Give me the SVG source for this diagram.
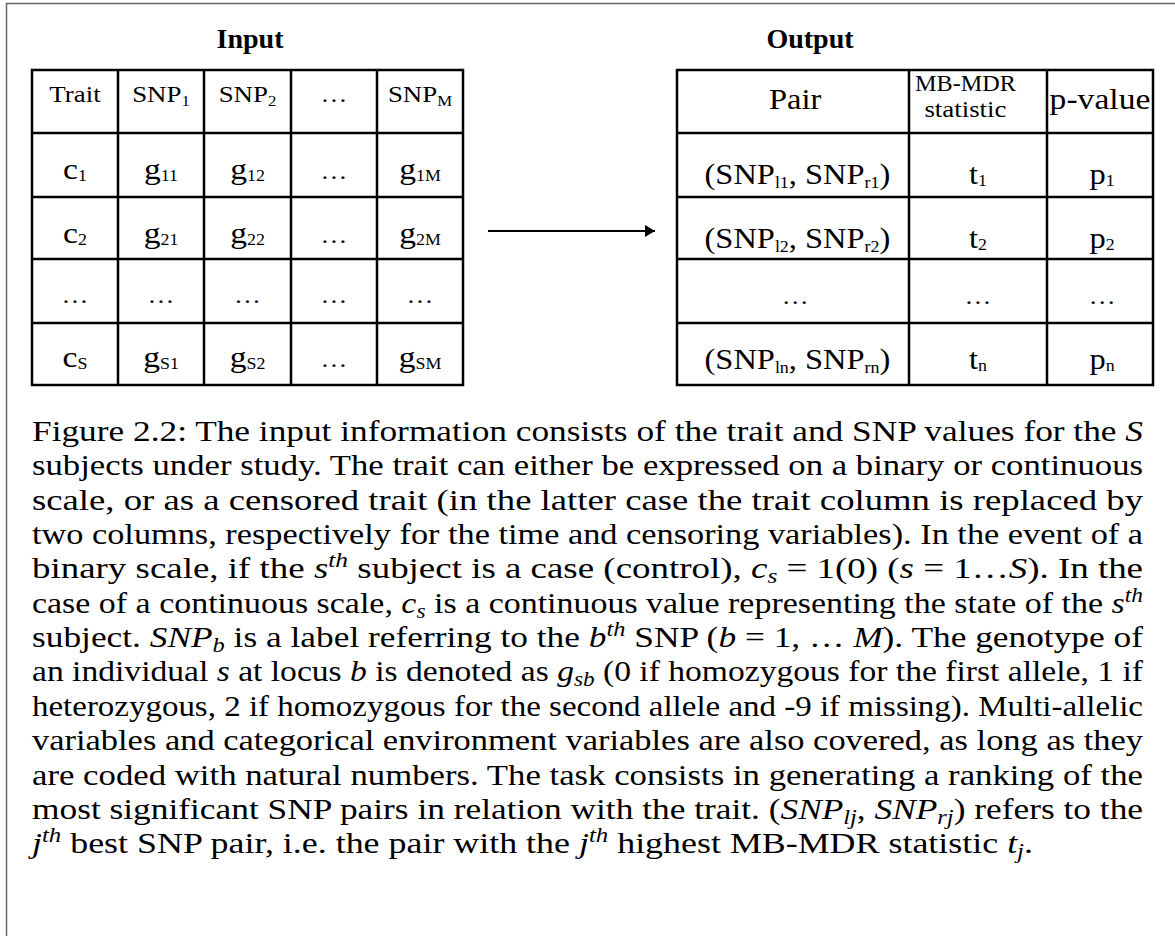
<svg xmlns="http://www.w3.org/2000/svg" width="1175" height="936" viewBox="0 0 1175 936">
<defs>
<style>
.frame{fill:none;stroke:#666;stroke-width:1.5}
.grid{fill:none;stroke:#000;stroke-width:2.5}
.ti{font-family:"Liberation Serif","Times New Roman",serif;font-weight:bold;font-size:28px;text-anchor:middle;fill:#000}
.tt{font-family:"Liberation Serif","Times New Roman",serif;text-anchor:middle;fill:#000}
.h{font-size:24px}
.r{font-size:30px}
.rr{font-size:29px}
.s{font-size:16px}
.hs{font-size:15px}
.el{font-size:24px}
.cap{font-family:"Liberation Serif","Times New Roman",serif;font-size:29px;fill:#000}
.i{font-style:italic}
.sm{font-size:20px}
</style>
<marker id="arr" viewBox="0 0 10 12" refX="10" refY="6" markerWidth="10" markerHeight="12" markerUnits="userSpaceOnUse" orient="auto">
<path d="M0,0 L10,6 L0,12 Z" fill="#000"/>
</marker>
</defs>
<rect width="1175" height="936" fill="#fff"/>
<path class="frame" d="M6.5,936 V3.5 H1175"/>

<g id="title-input"><text class="ti" x="250" y="48">Input</text></g>
<g id="title-output"><text class="ti" x="810" y="48">Output</text></g>

<g id="input-table">
<rect class="grid" x="32" y="70" width="431" height="315"/>
<path class="grid" d="M118,70V385M204,70V385M291,70V385M377,70V385M32,133H463M32,197H463M32,259H463M32,323H463"/>
<g transform="scale(1.12,1)">
<text class="tt h" x="66.96" y="102">Trait</text>
<text class="tt h" x="143.75" y="102">SNP<tspan class="hs" dy="4">1</tspan></text>
<text class="tt h" x="220.98" y="102">SNP<tspan class="hs" dy="4">2</tspan></text>
<text class="tt el" x="298.21" y="102">…</text>
<text class="tt h" x="375" y="102">SNP<tspan class="hs" dy="4">M</tspan></text>

<text class="tt r" x="66.96" y="179">c<tspan class="s" dy="2">1</tspan></text>
<text class="tt r" x="143.75" y="179">g<tspan class="s" dy="2">11</tspan></text>
<text class="tt r" x="220.98" y="179">g<tspan class="s" dy="2">12</tspan></text>
<text class="tt el" x="298.21" y="179">…</text>
<text class="tt r" x="375" y="179">g<tspan class="s" dy="2">1M</tspan></text>

<text class="tt r" x="66.96" y="243">c<tspan class="s" dy="2">2</tspan></text>
<text class="tt r" x="143.75" y="243">g<tspan class="s" dy="2">21</tspan></text>
<text class="tt r" x="220.98" y="243">g<tspan class="s" dy="2">22</tspan></text>
<text class="tt el" x="298.21" y="243">…</text>
<text class="tt r" x="375" y="243">g<tspan class="s" dy="2">2M</tspan></text>

<text class="tt el" x="66.96" y="303">…</text>
<text class="tt el" x="143.75" y="303">…</text>
<text class="tt el" x="220.98" y="303">…</text>
<text class="tt el" x="298.21" y="303">…</text>
<text class="tt el" x="375" y="303">…</text>

<text class="tt r" x="66.96" y="367">c<tspan class="s" dy="2">S</tspan></text>
<text class="tt r" x="143.75" y="367">g<tspan class="s" dy="2">S1</tspan></text>
<text class="tt r" x="220.98" y="367">g<tspan class="s" dy="2">S2</tspan></text>
<text class="tt el" x="298.21" y="367">…</text>
<text class="tt r" x="375" y="367">g<tspan class="s" dy="2">SM</tspan></text>
</g>
</g>

<g id="output-table">
<rect class="grid" x="677" y="70" width="476" height="315"/>
<path class="grid" d="M909,70V385M1047,70V385M677,133H1153M677,197H1153M677,259H1153M677,323H1153"/>
<g transform="scale(1.12,1)">
<text class="tt rr" x="710" y="109">Pair</text>
<text class="tt" style="font-size:24px" x="862" y="91" textLength="90" lengthAdjust="spacingAndGlyphs">MB-MDR</text>
<text class="tt" style="font-size:24px" x="862" y="117">statistic</text>
<text class="tt" style="font-size:30px" x="982.14" y="109">p-value</text>

<text class="tt rr" x="712" y="184">(SNP<tspan class="s" dy="4">l1</tspan><tspan dy="-4">, SNP</tspan><tspan class="s" dy="4">r1</tspan><tspan dy="-4">)</tspan></text>
<text class="tt rr" x="873.21" y="184">t<tspan class="s" dy="2">1</tspan></text>
<text class="tt rr" x="984" y="184">p<tspan class="s" dy="2">1</tspan></text>

<text class="tt rr" x="712" y="248">(SNP<tspan class="s" dy="4">l2</tspan><tspan dy="-4">, SNP</tspan><tspan class="s" dy="4">r2</tspan><tspan dy="-4">)</tspan></text>
<text class="tt rr" x="873.21" y="248">t<tspan class="s" dy="2">2</tspan></text>
<text class="tt rr" x="984" y="248">p<tspan class="s" dy="2">2</tspan></text>

<text class="tt el" x="710" y="304">…</text>
<text class="tt el" x="873.21" y="304">…</text>
<text class="tt el" x="984" y="304">…</text>

<text class="tt rr" x="712" y="369">(SNP<tspan class="s" dy="4">ln</tspan><tspan dy="-4">, SNP</tspan><tspan class="s" dy="4">rn</tspan><tspan dy="-4">)</tspan></text>
<text class="tt rr" x="873.21" y="369">t<tspan class="s" dy="2">n</tspan></text>
<text class="tt rr" x="984" y="369">p<tspan class="s" dy="2">n</tspan></text>
</g>
</g>

<g id="connectors">
<line x1="488" y1="231" x2="655" y2="231" stroke="#000" stroke-width="2" marker-end="url(#arr)"/>
</g>

<g id="caption">
<text class="cap" x="32" y="441" textLength="1111" lengthAdjust="spacingAndGlyphs">Figure 2.2: The input information consists of the trait and SNP values for the <tspan class="i">S</tspan></text>
<text class="cap" x="32" y="475.35" textLength="1111" lengthAdjust="spacingAndGlyphs">subjects under study. The trait can either be expressed on a binary or continuous</text>
<text class="cap" x="32" y="509.7" textLength="1111" lengthAdjust="spacingAndGlyphs">scale, or as a censored trait (in the latter case the trait column is replaced by</text>
<text class="cap" x="32" y="544.05" textLength="1111" lengthAdjust="spacingAndGlyphs">two columns, respectively for the time and censoring variables). In the event of a</text>
<text class="cap" x="32" y="578.4" textLength="1111" lengthAdjust="spacingAndGlyphs">binary scale, if the <tspan class="i">s</tspan><tspan class="i sm" dy="-11">th</tspan><tspan dy="11"> subject is a case (control), </tspan><tspan class="i">c</tspan><tspan class="i sm" dy="5">s</tspan><tspan dy="-5"> = 1(0) (</tspan><tspan class="i">s</tspan><tspan> = 1…</tspan><tspan class="i">S</tspan><tspan>). In the</tspan></text>
<text class="cap" x="32" y="612.75" textLength="1111" lengthAdjust="spacingAndGlyphs">case of a continuous scale, <tspan class="i">c</tspan><tspan class="i sm" dy="5">s</tspan><tspan dy="-5"> is a continuous value representing the state of the </tspan><tspan class="i">s</tspan><tspan class="i sm" dy="-11">th</tspan></text>
<text class="cap" x="32" y="647.1" textLength="1111" lengthAdjust="spacingAndGlyphs">subject. <tspan class="i">SNP</tspan><tspan class="i sm" dy="5">b</tspan><tspan dy="-5"> is a label referring to the </tspan><tspan class="i">b</tspan><tspan class="i sm" dy="-11">th</tspan><tspan dy="11"> SNP (</tspan><tspan class="i">b</tspan><tspan> = 1, … </tspan><tspan class="i">M</tspan><tspan>). The genotype of</tspan></text>
<text class="cap" x="32" y="681.45" textLength="1111" lengthAdjust="spacingAndGlyphs">an individual <tspan class="i">s</tspan><tspan> at locus </tspan><tspan class="i">b</tspan><tspan> is denoted as </tspan><tspan class="i">g</tspan><tspan class="i sm" dy="5">sb</tspan><tspan dy="-5"> (0 if homozygous for the first allele, 1 if</tspan></text>
<text class="cap" x="32" y="715.8" textLength="1111" lengthAdjust="spacingAndGlyphs">heterozygous, 2 if homozygous for the second allele and -9 if missing). Multi-allelic</text>
<text class="cap" x="32" y="750.15" textLength="1111" lengthAdjust="spacingAndGlyphs">variables and categorical environment variables are also covered, as long as they</text>
<text class="cap" x="32" y="784.5" textLength="1111" lengthAdjust="spacingAndGlyphs">are coded with natural numbers. The task consists in generating a ranking of the</text>
<text class="cap" x="32" y="818.85" textLength="1111" lengthAdjust="spacingAndGlyphs">most significant SNP pairs in relation with the trait. (<tspan class="i">SNP</tspan><tspan class="i sm" dy="5">lj</tspan><tspan dy="-5">, </tspan><tspan class="i">SNP</tspan><tspan class="i sm" dy="5">rj</tspan><tspan dy="-5">) refers to the</tspan></text>
<text class="cap" x="32" y="853.2" textLength="1001" lengthAdjust="spacingAndGlyphs"><tspan class="i">j</tspan><tspan class="i sm" dy="-11">th</tspan><tspan dy="11"> best SNP pair, i.e. the pair with the </tspan><tspan class="i">j</tspan><tspan class="i sm" dy="-11">th</tspan><tspan dy="11"> highest MB-MDR statistic </tspan><tspan class="i">t</tspan><tspan class="i sm" dy="5">j</tspan><tspan dy="-5">.</tspan></text>
</g>
</svg>
